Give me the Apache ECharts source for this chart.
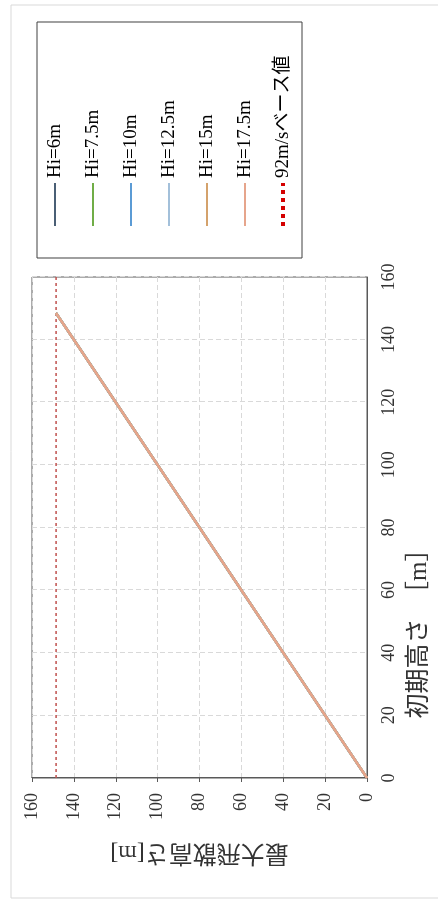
<!DOCTYPE html>
<html>
<head>
<meta charset="utf-8">
<script src="https://cdn.jsdelivr.net/npm/echarts@6/dist/echarts.min.js"></script>
<style>
html,body{margin:0;padding:0;width:438px;height:900px;overflow:hidden;background:#fff;}
#chart{position:absolute;left:0;top:0;width:900px;height:438px;transform-origin:0 0;transform:translate(0px,900px) rotate(-90deg);}
</style>
</head>
<body>
<div id="chart"></div>
<script>
// ---- data ----
const seriesNames = ['Hi=6m', 'Hi=7.5m', 'Hi=10m', 'Hi=12.5m', 'Hi=15m', 'Hi=17.5m'];
const initialHeight = [0, 148.5];          // 初期高さ [m]
const maxHeight_6 = [0, 148.5];            // 最大飛散高さ [m]
const maxHeight_7_5 = [0, 148.5];
const maxHeight_10 = [0, 148.5];
const maxHeight_12_5 = [0, 148.5];
const maxHeight_15 = [0, 148.5];
const maxHeight_17_5 = [0, 148.5];
const baseName = '92m/sベース値';
const baseX = [0, 160];
const baseValue = [148.5, 148.5];
const axisTicks = [0, 20, 40, 60, 80, 100, 120, 140, 160];

const seriesColors = ['#4a5f75', '#70ad47', '#5b9bd5', '#a3c0da', '#d4a26c', '#e6a58c'];
const allY = [maxHeight_6, maxHeight_7_5, maxHeight_10, maxHeight_12_5, maxHeight_15, maxHeight_17_5];

const serif = "'Liberation Serif'";
const cjk = "'Liberation Serif','Noto Sans CJK JP'";

const series = seriesNames.map((n, i) => ({
  name: n,
  type: 'line',
  symbol: 'none',
  showSymbol: false,
  data: initialHeight.map((x, k) => [x, allY[i][k]]),
  lineStyle: {color: seriesColors[i], width: 2.5},
  itemStyle: {color: seriesColors[i]},
  z: 3
}));
series.push({
  name: baseName,
  type: 'line',
  symbol: 'none',
  showSymbol: false,
  data: baseX.map((x, k) => [x, baseValue[k]]),
  lineStyle: {color: '#c0504d', width: 1.5, type: [3, 3]},
  itemStyle: {color: '#c0504d'},
  z: 2
});

const legendData = seriesNames.map((n, i) => ({name: n}));
legendData.push({name: baseName, lineStyle: {color: '#d40000', width: 4, type: [4, 4]}});

const chart = echarts.init(document.getElementById('chart'), null, {renderer: 'canvas', width: 900, height: 438});
chart.setOption({
  animation: false,
  backgroundColor: '#ffffff',
  graphic: [
    {type: 'rect', shape: {x: 2, y: 11, width: 893, height: 440}, style: {fill: 'none', stroke: '#d9d9d9', lineWidth: 1}, silent: true},
    {type: 'rect', shape: {x: 642, y: 37, width: 236, height: 265}, style: {fill: 'none', stroke: '#404040', lineWidth: 1}, silent: true}
  ],
  grid: {left: 122, top: 32, width: 501, height: 335, show: true, borderColor: '#595959', borderWidth: 1, containLabel: false},
  legend: {
    orient: 'vertical',
    left: 672,
    top: 45,
    padding: 0,
    itemWidth: 43,
    itemHeight: 20,
    itemGap: 18,
    itemStyle: {opacity: 0},
    data: legendData,
    textStyle: {fontFamily: cjk, fontSize: 19, color: '#000', lineHeight: 20}
  },
  xAxis: {
    type: 'value', min: 0, max: 160, interval: 20,
    name: '初期高さ　［m］', nameLocation: 'middle', nameGap: 40,
    nameTextStyle: {fontFamily: cjk, fontSize: 25, color: '#333', padding: [0, 200, 0, 0]},
    axisLine: {show: true, lineStyle: {color: '#595959', width: 1}},
    axisTick: {show: false},
    axisLabel: {margin: 13, fontFamily: serif, fontSize: 18, color: '#333',
      formatter: v => axisTicks.includes(v) ? String(v) : ''},
    splitLine: {show: true, lineStyle: {color: '#d9d9d9', type: [5, 3], width: 1}}
  },
  yAxis: {
    type: 'value', min: 0, max: 160, interval: 20,
    name: '最大飛散高さ[m]', nameLocation: 'middle', nameGap: 62, nameRotate: 90,
    nameTextStyle: {fontFamily: cjk, fontSize: 24, color: '#333'},
    axisLine: {show: true, lineStyle: {color: '#595959', width: 1}},
    axisTick: {show: true, length: 4, lineStyle: {color: '#595959'}},
    axisLabel: {margin: 15, fontFamily: serif, fontSize: 18, color: '#333',
      formatter: v => axisTicks.includes(v) ? String(v) : ''},
    splitLine: {show: true, lineStyle: {color: '#d9d9d9', type: [5, 3], width: 1}}
  },
  series: series
});
</script>
</body>
</html>
